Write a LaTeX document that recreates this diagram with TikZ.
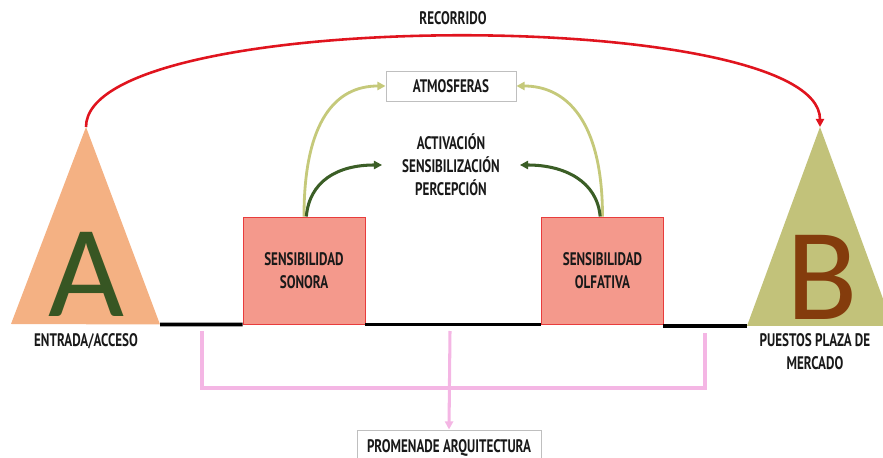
\documentclass[tikz,border=0pt]{standalone}
\usepackage{fontspec}
\setmainfont{PT Sans}
\newfontfamily\handfont[FakeStretch=0.72]{PT Sans Bold}
\newfontfamily\letterfont{Carlito}
\usetikzlibrary{arrows.meta}

\definecolor{peach}{HTML}{F4B183}
\definecolor{olivetri}{HTML}{C2C27A}
\definecolor{leafgreen}{HTML}{375623}
\definecolor{rust}{HTML}{843C0C}
\definecolor{salmon}{HTML}{F4998C}
\definecolor{boxred}{HTML}{E83C3C}
\definecolor{routered}{HTML}{E0141E}
\definecolor{oliveline}{HTML}{C5C97A}
\definecolor{darkleaf}{HTML}{3B5E26}
\definecolor{pinkline}{HTML}{F4B6E4}
\definecolor{framegray}{HTML}{BFBFBF}

\begin{document}
\begin{tikzpicture}[x = 0.03cm, y = -0.03cm,
    txt/.style = {font = \handfont\fontsize{15.5}{19.5}\selectfont, text = black!90, align = center, inner sep = 1pt},
    sensebox/.style = {txt, draw = boxred, fill = salmon, line width = 0.8pt,
      minimum width = 3.66cm, minimum height = 3.21cm},
    graybox/.style = {txt, draw = framegray, fill = white, line width = 0.8pt},
    bigletter/.style = {font = \letterfont\fontsize{112}{112}\selectfont, inner sep = 0pt, anchor = base},
    tip/.style = {-{Triangle[length = 7pt, width = 7pt]}}
  ]
    \useasboundingbox (0, 0) rectangle (883, 458);

    % triangles A and B
    \coordinate (atop) at (86, 127);
    \coordinate (aleft) at (11, 324);
    \coordinate (aright) at (160, 324.5);
    \coordinate (btop) at (820, 127);
    \coordinate (bleft) at (747, 326);
    \coordinate (bright) at (893, 326);
    \fill[peach] (atop) -- (aleft) -- (aright) -- cycle;
    \fill[olivetri] (btop) -- (bleft) -- (bright) -- cycle;
    \node[bigletter, text = leafgreen] (letA) at (86, 317) {A};
    \node[bigletter, text = rust] (letB) at (822, 320) {B};
    \node[txt] (entrada) at (86, 341) {ENTRADA/ACCESO};
    \node[txt] (puestos) at (815, 352) {PUESTOS PLAZA DE\\MERCADO};

    % route
    \node[txt] (recorrido) at (453, 18) {RECORRIDO};
    \draw[tip, routered, line width = 2.2pt] (atop) .. controls +(0, -121) and +(0, -121) .. (btop);

    % boxes
    \node[sensebox] (sonora) at (304, 270.5) {SENSIBILIDAD\\SONORA};
    \node[sensebox] (olfativa) at (602.5, 270.5) {SENSIBILIDAD\\OLFATIVA};
    \node[graybox, minimum width = 3.9cm, minimum height = 0.9cm] (atmos) at (451, 86) {ATMOSFERAS};
    \node[txt, inner xsep = 17pt] (acts) at (451, 165) {ACTIVACIÓN\\SENSIBILIZACIÓN\\PERCEPCIÓN};
    \node[graybox, minimum width = 5.52cm, minimum height = 1.08cm] (promenade) at (449, 448) {PROMENADE ARQUITECTURA};

    % ground line
    \coordinate (oright) at (663, 326);
    \draw[line width = 3.2pt] (aright) -- (sonora.south west);
    \draw[line width = 3.2pt] (sonora.south east) -- (olfativa.south west);
    \draw[line width = 3.2pt] (oright) -- (bleft);

    % arrows up
    \draw[tip, oliveline, line width = 2.4pt] (sonora.north) .. controls +(0, -97) and +(-49, 0) .. (atmos.west);
    \draw[tip, oliveline, line width = 2.4pt] (olfativa.north) .. controls +(0, -97) and +(49, 0) .. (atmos.east);
    \draw[tip, darkleaf, line width = 2.6pt] ([xshift = 2pt] sonora.north) .. controls +(3, -35) and +(-45, 0) .. (acts.west);
    \draw[tip, darkleaf, line width = 2.6pt] ([xshift = -2pt] olfativa.north) .. controls +(-3, -35) and +(45, 0) .. (acts.east);

    % bracket
    \coordinate (pleft) at (202, 331);
    \coordinate (pmid) at (450, 331);
    \coordinate (pright) at (705, 333);
    \draw[pinkline, line width = 2.6pt] (pleft) -- (202, 388) -- (705, 388) -- (pright);
    \draw[tip, pinkline, line width = 2.6pt] (pmid) -- (promenade.north);
\end{tikzpicture}
\end{document}
